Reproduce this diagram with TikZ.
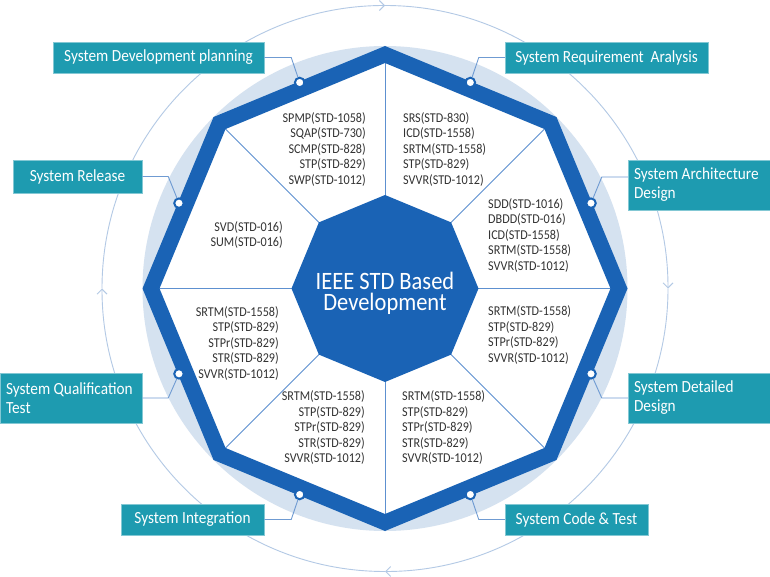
\documentclass[tikz,border=0pt]{standalone}
\usepackage{fontspec}
\setmainfont{Carlito}
\newfontfamily\lblfont[FakeStretch=0.9]{Carlito}
\usetikzlibrary{shapes.geometric,arrows.meta}
\definecolor{bandblue}{HTML}{1A63B5}
\definecolor{lightblue}{HTML}{D5E2F0}
\definecolor{ringblue}{HTML}{B3C9E5}
\definecolor{divblue}{HTML}{5D90D0}
\definecolor{tealbox}{HTML}{1E9BB0}
\definecolor{leaderblue}{HTML}{6F9BD2}
\definecolor{listgray}{HTML}{333333}
\tikzset{
  ring/.style={draw=ringblue, line width=0.9pt},
  ringtip/.style={-{Straight Barb[length=5pt,width=10pt,line width=0.9pt]}},
  divider/.style={draw=divblue, line width=0.9pt},
  marker/.style={circle, fill=white, draw=bandblue, line width=2pt, minimum size=9.5pt, inner sep=0pt},
  leader/.style={draw=leaderblue, line width=0.9pt},
  lbl/.style={fill=tealbox, draw=tealbox!55!white, line width=0.5pt, text=white, inner sep=0pt,
    font=\lblfont\fontsize{17}{19}\selectfont},
  lbltwo/.style={lbl, minimum width=142pt, minimum height=50pt, text width=130pt, align=flush left},
  lst/.style={text=listgray, inner sep=0pt, font=\lblfont\fontsize{13.5}{15.5}\selectfont},
  core/.style={regular polygon, regular polygon sides=8, shape border rotate=22.5,
    minimum size=187pt, fill=bandblue, inner sep=0pt},
  coretext/.style={text=white, inner sep=0pt, anchor=base,
    font=\lblfont\fontsize{25}{21}\selectfont}
}
\begin{document}
\begin{tikzpicture}[x=1pt,y=-1pt]
\useasboundingbox (0,0) rectangle (770,577);
\fill[white] (0,0) rectangle (770,577);
\coordinate (c) at (385,288.5);
% outer ring with arrows
\draw[ring,ringtip] ([shift={(180:283pt)}]c) arc[start angle=180,end angle=90,radius=283pt];
\draw[ring,ringtip] ([shift={(90:283pt)}]c) arc[start angle=90,end angle=0,radius=283pt];
\draw[ring,ringtip] ([shift={(0:283pt)}]c) arc[start angle=0,end angle=-90,radius=283pt];
\draw[ring,ringtip] ([shift={(-90:283pt)}]c) arc[start angle=-90,end angle=-180,radius=283pt];
% light disc
\fill[lightblue] (c) circle[radius=242.5pt];
% octagon coordinates
\foreach \a in {0,45,...,315}{
  \coordinate (b\a) at ([shift={(\a:234pt)}]c);
  \coordinate (o\a) at ([shift={(\a:226pt)}]c);
  \coordinate (i\a) at ([shift={(\a:92pt)}]c);
}
\fill[white] (b0) -- (b45) -- (b90) -- (b135) -- (b180) -- (b225) -- (b270) -- (b315) -- cycle;
\foreach \a in {0,45,...,315}{ \draw[divider] (i\a) -- (o\a); }
\draw[draw=bandblue, line width=15.7pt, line join=miter]
  (b0) -- (b45) -- (b90) -- (b135) -- (b180) -- (b225) -- (b270) -- (b315) -- cycle;
% core
\node[core] (core) at (c) {};
\node[coretext] (coreA) at (385,289.5) {IEEE STD Based};
\node[coretext] (coreB) at (385,310) {Development};
% markers
\node[marker] (mSDP) at ([shift={(112.5:223pt)}]c) {};
\node[marker] (mSRA) at ([shift={(67.5:223pt)}]c) {};
\node[marker] (mSAD) at ([shift={(22.5:223pt)}]c) {};
\node[marker] (mSDD) at ([shift={(-22.5:223pt)}]c) {};
\node[marker] (mSCT) at ([shift={(-67.5:223pt)}]c) {};
\node[marker] (mSI)  at ([shift={(-112.5:223pt)}]c) {};
\node[marker] (mSQT) at ([shift={(-157.5:223pt)}]c) {};
\node[marker] (mSR)  at ([shift={(157.5:223pt)}]c) {};
% label boxes
\node[lbl, minimum width=211pt, minimum height=31pt] (sdp) at (158.5,57.5) {System Development planning};
\node[lbl, minimum width=129pt, minimum height=33pt] (sr) at (77.5,176.5) {System Release};
\node[lbl, minimum width=203pt, minimum height=31pt] (sra) at (606.5,57.5) {System Requirement\ \ Aralysis};
\node[lbltwo] (sad) at (699,185) {System Architecture\\Design};
\node[lbltwo] (sqt) at (71,398) {System Qualification\\Test};
\node[lbltwo] (sdd) at (699,398) {System Detailed\\Design};
\node[lbl, minimum width=143pt, minimum height=31pt] (si) at (192.5,519.5) {System Integration};
\node[lbl, minimum width=143pt, minimum height=31pt] (sct) at (576.5,519.5) {System Code \& Test};
% leaders
\draw[leader] (sdp.east) -- ++(27,0) -- (mSDP);
\draw[leader] (sr.east) -- ++(26,0) -- (mSR);
\draw[leader] (sra.west) -- ++(-26,0) -- (mSRA);
\draw[leader] ([yshift=8pt]sad.west) -- ++(-26,0) -- (mSAD);
\draw[leader] (sqt.east) -- ++(26,0) -- (mSQT);
\draw[leader] (sdd.west) -- ++(-26,0) -- (mSDD);
\draw[leader] (si.east) -- ++(27,0) -- (mSI);
\draw[leader] (sct.west) -- ++(-26,0) -- (mSCT);
% lists
\node[lst, align=right, anchor=east] (lTL) at (366,149)
  {SPMP(STD-1058)\\SQAP(STD-730)\\SCMP(STD-828)\\STP(STD-829)\\SWP(STD-1012)};
\node[lst, align=left, anchor=west] (lTR) at (403,149)
  {SRS(STD-830)\\ICD(STD-1558)\\SRTM(STD-1558)\\STP(STD-829)\\SVVR(STD-1012)};
\node[lst, align=right, anchor=east] (lUL) at (283,235)
  {SVD(STD-016)\\SUM(STD-016)};
\node[lst, align=left, anchor=west] (lUR) at (488,235)
  {SDD(STD-1016)\\DBDD(STD-016)\\ICD(STD-1558)\\SRTM(STD-1558)\\SVVR(STD-1012)};
\node[lst, align=left, anchor=west] (lLR) at (488,335)
  {SRTM(STD-1558)\\STP(STD-829)\\STPr(STD-829)\\SVVR(STD-1012)};
\node[lst, align=right, anchor=east] (lLL) at (279,343)
  {SRTM(STD-1558)\\STP(STD-829)\\STPr(STD-829)\\STR(STD-829)\\SVVR(STD-1012)};
\node[lst, align=right, anchor=east] (lBL) at (365,427.5)
  {SRTM(STD-1558)\\STP(STD-829)\\STPr(STD-829)\\STR(STD-829)\\SVVR(STD-1012)};
\node[lst, align=left, anchor=west] (lBR) at (402,427.5)
  {SRTM(STD-1558)\\STP(STD-829)\\STPr(STD-829)\\STR(STD-829)\\SVVR(STD-1012)};
\end{tikzpicture}
\end{document}
